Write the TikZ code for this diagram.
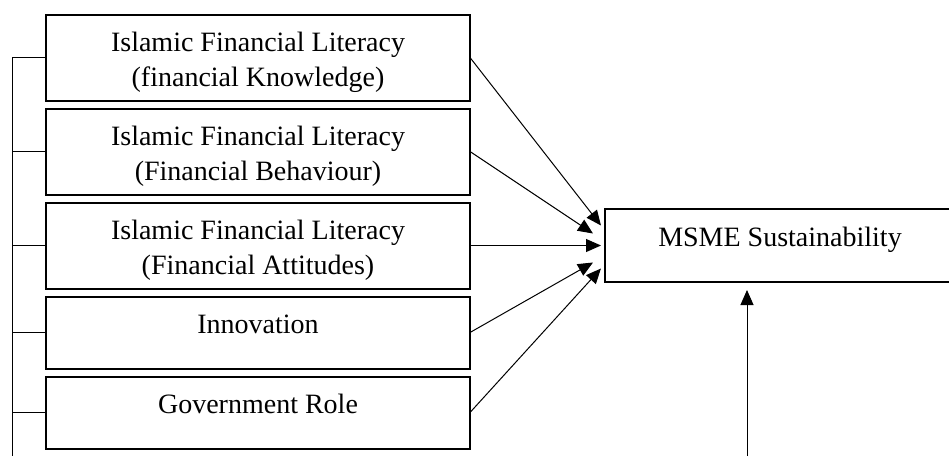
\documentclass[tikz,border=0pt]{standalone}
\usepackage{fontspec}
\setmainfont{Liberation Serif}
\usepackage{tikz}
\usetikzlibrary{arrows.meta,positioning,calc}

\begin{document}
\begin{tikzpicture}[x=0.5pt, y=-0.5pt,
    >={Triangle[length=7.5pt,width=6.5pt]},
    factor/.style={draw, line width=1pt, minimum width=212pt, inner sep=0pt, outer sep=0pt},
    caption/.style={anchor=north, yshift=-6.25pt, align=center, inner sep=0pt,
        font=\fontsize{14}{17.5}\selectfont},
    link/.style={line width=0.5pt},
    node distance=4pt]
    \useasboundingbox (0,0) rectangle (949,456);

    % Independent variables
    \node[factor, minimum height=43pt, anchor=north,
        label={[caption]north:{\strut Islamic Financial Literacy\\(financial Knowledge)}}] (b1) at (258,14.5) {};
    \node[factor, minimum height=43pt, below=of b1,
        label={[caption]north:{\strut Islamic Financial Literacy\\(Financial Behaviour)}}] (b2) {};
    \node[factor, minimum height=43pt, below=of b2,
        label={[caption]north:{\strut Islamic Financial Literacy\\(Financial Attitudes)}}] (b3) {};
    \node[factor, minimum height=36pt, below=of b3,
        label={[caption]north:{\strut Innovation}}] (b4) {};
    \node[factor, minimum height=36pt, below=of b4,
        label={[caption]north:{\strut Government Role}}] (b5) {};

    % Dependent variable
    \node[factor, minimum height=36.5pt, minimum width=175pt, right=67.5pt of b3,
        label={[caption]north:{\strut MSME Sustainability}}] (msme) {};

    % Bracket on the left
    \coordinate (railtop) at ($(b1.west)+(-34,0)$);
    \coordinate (railend) at (railtop |- 0,456);
    \draw[link] (railtop) -- (railend);
    \foreach \k in {1,...,5}
        \draw[link] (b\k.west) -- (b\k.west -| railtop);

    % Paths into MSME Sustainability
    \foreach \k/\dx/\dy in {1/-4/-20, 2/-12/-12, 3/-4/0, 4/-12/17, 5/-4/23}
        \draw[link,->] (b\k.east) -- ($(msme.west)+(\dx,\dy)$);

    % Arrow from below
    \coordinate (feed) at (747,456);
    \draw[link,->] (feed) -- ($(msme.south -| feed)+(0,8)$);
\end{tikzpicture}
\end{document}
